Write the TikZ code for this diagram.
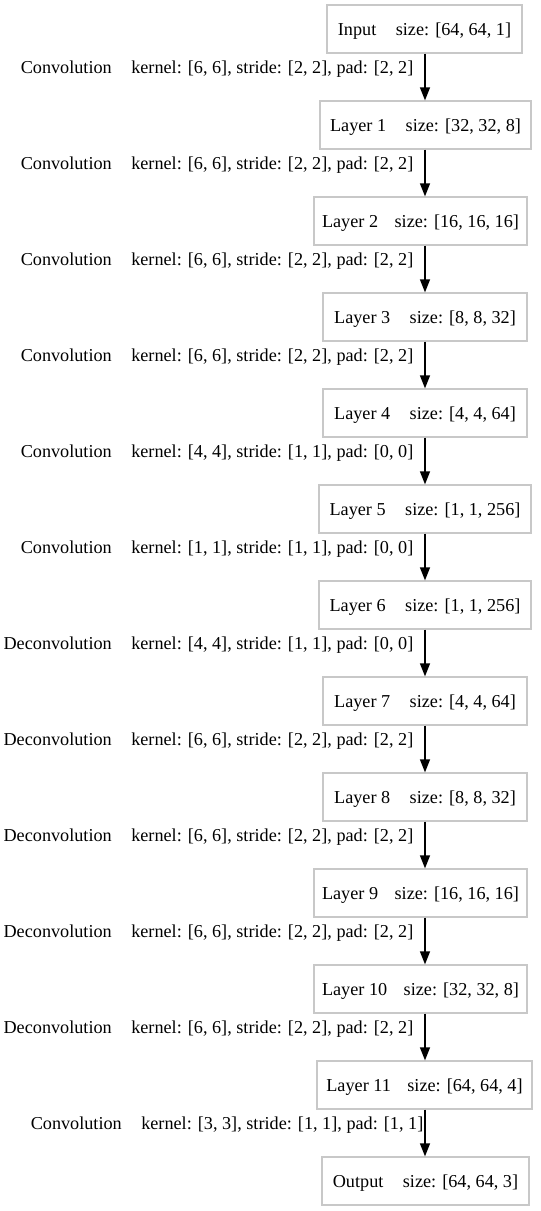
\documentclass[tikz,border=0pt]{standalone}
\usepackage{fontspec}
\setmainfont{Liberation Serif}
\usetikzlibrary{arrows.meta}
\definecolor{boxline}{RGB}{200,200,200}
\tikzset{
  layerbox/.style={draw=boxline, line width=1.33bp, fill=white, minimum height=48bp,
    inner xsep=0bp, inner ysep=0bp, text height=12bp, text depth=0bp,
    font=\fontsize{18.2bp}{22bp}\selectfont},
  oplabel/.style={anchor=base east, inner sep=0bp, font=\fontsize{18.2bp}{22bp}\selectfont},
  flow/.style={line width=1.33bp, -{Triangle[length=13bp,width=10bp]}}
}
\newcommand{\gapA}{\hspace{19.5bp}}
\newcommand{\gapB}{\hspace{16.5bp}}
\begin{document}
\begin{tikzpicture}[x=1bp,y=-1bp]
\useasboundingbox (0,0) rectangle (541,1211);
\coordinate (ax) at (425,0);
% nodes
\node[layerbox, minimum width=195bp] (n0)  at (424.5,29)   {Input\gapA size: [64, 64, 1]};
\node[layerbox, minimum width=211bp] (n1)  at (425.5,125)  {Layer 1\gapA size: [32, 32, 8]};
\node[layerbox, minimum width=213bp] (n2)  at (420.5,221)  {Layer 2\gapB size: [16, 16, 16]};
\node[layerbox, minimum width=204bp] (n3)  at (425,317)    {Layer 3\gapA size: [8, 8, 32]};
\node[layerbox, minimum width=204bp] (n4)  at (425,413)    {Layer 4\gapA size: [4, 4, 64]};
\node[layerbox, minimum width=212bp] (n5)  at (425,509)    {Layer 5\gapA size: [1, 1, 256]};
\node[layerbox, minimum width=212bp] (n6)  at (425,605)    {Layer 6\gapA size: [1, 1, 256]};
\node[layerbox, minimum width=204bp] (n7)  at (425,701)    {Layer 7\gapA size: [4, 4, 64]};
\node[layerbox, minimum width=204bp] (n8)  at (425,797)    {Layer 8\gapA size: [8, 8, 32]};
\node[layerbox, minimum width=213bp] (n9)  at (420.5,893)  {Layer 9\gapB size: [16, 16, 16]};
\node[layerbox, minimum width=213bp] (n10) at (420.5,989)  {Layer 10\gapB size: [32, 32, 8]};
\node[layerbox, minimum width=215bp] (n11) at (424.5,1085) {Layer 11\gapB size: [64, 64, 4]};
\node[layerbox, minimum width=207bp] (n12) at (425.5,1181) {Output\gapA size: [64, 64, 3]};
% edges
\foreach \a/\b in {n0/n1,n1/n2,n2/n3,n3/n4,n4/n5,n5/n6,n6/n7,n7/n8,n8/n9,n9/n10,n10/n11,n11/n12}
  \draw[flow] (\a.south -| ax) -- (\b.north -| ax);
% edge labels
\node[oplabel] (l0)  at (413.5,73.5)   {Convolution\gapA kernel: [6, 6], stride: [2, 2], pad: [2, 2]};
\node[oplabel] (l1)  at (413.5,169.5)  {Convolution\gapA kernel: [6, 6], stride: [2, 2], pad: [2, 2]};
\node[oplabel] (l2)  at (413.5,265.5)  {Convolution\gapA kernel: [6, 6], stride: [2, 2], pad: [2, 2]};
\node[oplabel] (l3)  at (413.5,361.5)  {Convolution\gapA kernel: [6, 6], stride: [2, 2], pad: [2, 2]};
\node[oplabel] (l4)  at (413.5,457.5)  {Convolution\gapA kernel: [4, 4], stride: [1, 1], pad: [0, 0]};
\node[oplabel] (l5)  at (413.5,553.5)  {Convolution\gapA kernel: [1, 1], stride: [1, 1], pad: [0, 0]};
\node[oplabel] (l6)  at (413.5,649.5)  {Deconvolution\gapA kernel: [4, 4], stride: [1, 1], pad: [0, 0]};
\node[oplabel] (l7)  at (413.5,745.5)  {Deconvolution\gapA kernel: [6, 6], stride: [2, 2], pad: [2, 2]};
\node[oplabel] (l8)  at (413.5,841.5)  {Deconvolution\gapA kernel: [6, 6], stride: [2, 2], pad: [2, 2]};
\node[oplabel] (l9)  at (413.5,937.5)  {Deconvolution\gapA kernel: [6, 6], stride: [2, 2], pad: [2, 2]};
\node[oplabel] (l10) at (413.5,1033.5) {Deconvolution\gapA kernel: [6, 6], stride: [2, 2], pad: [2, 2]};
\node[oplabel] (l11) at (423.5,1129.5) {Convolution\gapA kernel: [3, 3], stride: [1, 1], pad: [1, 1]};
\end{tikzpicture}
\end{document}
